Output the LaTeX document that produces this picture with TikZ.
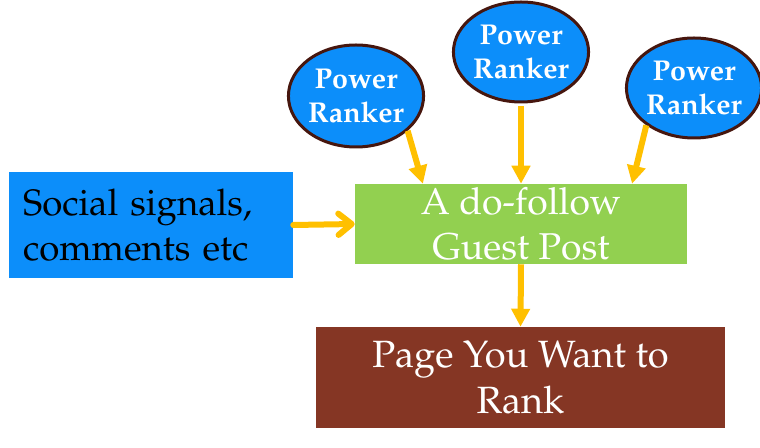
\documentclass[tikz,border=0pt]{standalone}
\usepackage[T1]{fontenc}
\usepackage{mathpazo}
\usetikzlibrary{shapes.geometric,arrows.meta,calc}
\definecolor{rankblue}{RGB}{12,142,250}
\definecolor{postgreen}{RGB}{146,208,80}
\definecolor{pagebrown}{RGB}{133,54,36}
\definecolor{rimbrown}{RGB}{70,22,14}
\definecolor{gold}{RGB}{255,192,0}
\tikzset{
  ranker/.style={ellipse,draw=rimbrown,line width=2.25pt,fill=rankblue,inner sep=0pt,
    text=white,font=\bfseries\fontsize{21.5}{26}\selectfont,align=center},
  boxnode/.style={rectangle,inner sep=0pt,align=center},
  tri/.style={draw=gold,line width=4.5pt,-{Triangle[length=13.5pt,width=13.5pt]}},
  barb/.style={draw=gold,line width=4.5pt,line cap=round,-{Straight Barb[length=10pt,width=16pt,round]}}
}
\begin{document}
\begin{tikzpicture}[x=0.75pt,y=-0.75pt]
\useasboundingbox (0,0) rectangle (760,448);
\node[ranker,minimum width=93pt,minimum height=76.5pt] (e1) at (356,96) {Power\\Ranker};
\node[ranker,minimum width=96.75pt,minimum height=75pt] (e2) at (521,52) {Power\\Ranker};
\node[ranker,minimum width=96pt,minimum height=75pt] (e3) at (694,88) {Power\\Ranker};
\node[boxnode,fill=rankblue,text=black,font=\fontsize{27.5}{34}\selectfont,minimum height=79.5pt,inner xsep=10.5pt,text width=192pt,align=left] (social) at (151,225) {Social signals,\\comments etc};
\node[boxnode,fill=postgreen,text=white,font=\fontsize{28}{34}\selectfont,minimum width=249pt,minimum height=60pt] (post) at (521,224) {A do-follow\\Guest Post};
\node[boxnode,fill=pagebrown,text=white,font=\fontsize{28.5}{34}\selectfont,minimum width=306.75pt,minimum height=75.75pt] (page) at (520.5,377.5) {Page You Want to\\Rank};
\draw[tri] (e1.-34) -- ($(post.north west)!0.205!(post.north east)$);
\draw[tri,shorten <=2pt] (e2.south) -- (post.north);
\draw[tri] (e3.-142) -- ($(post.north west)!0.834!(post.north east)$);
\draw[barb] (social.east) -- (post.west);
\draw[tri] (post.south) -- (page.north);
\end{tikzpicture}
\end{document}
